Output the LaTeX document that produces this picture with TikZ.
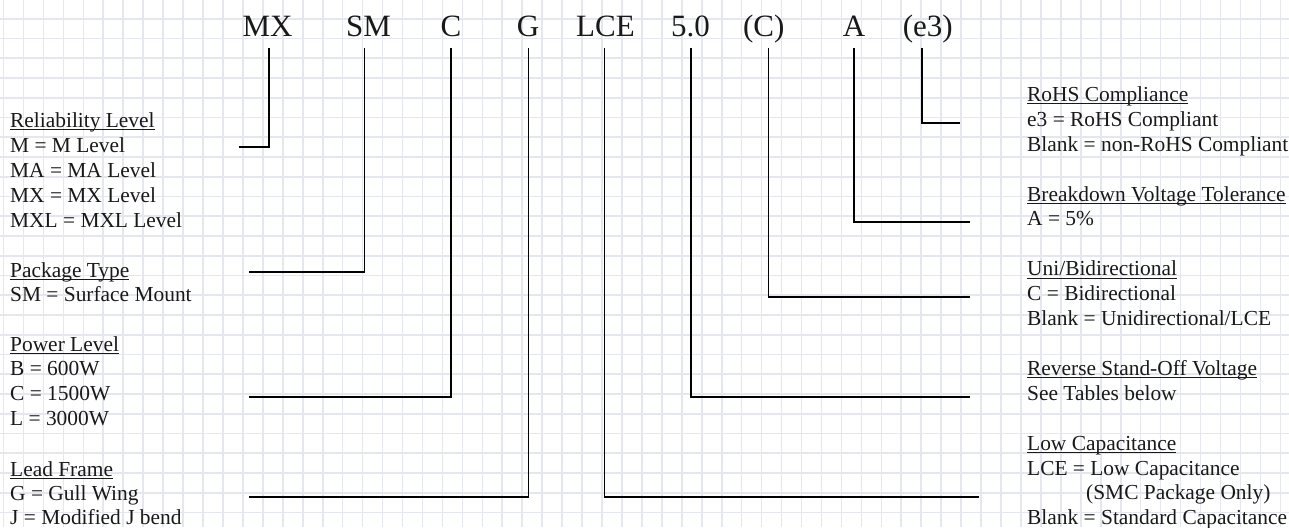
\documentclass[tikz,border=0pt]{standalone}
\usepackage{fontspec}
\setmainfont{Liberation Serif}
\definecolor{gridc}{RGB}{229,231,238}
\definecolor{inkc}{RGB}{25,25,25}
\newcommand\headtxt[1]{\setbox0\hbox{#1}\rlap{\rule[-3pt]{\wd0}{0.9pt}}#1}
\tikzset{
  gridline/.style={draw=gridc, line width=1.6pt},
  code/.style={anchor=base, inner sep=0pt, text=inkc, font=\fontsize{31}{36}\selectfont},
  txt/.style={anchor=base west, inner sep=0pt, text=inkc, font=\fontsize{21.4}{25}\selectfont},
  conn/.style={draw=black, line width=1.6pt},
}
\begin{document}
\begin{tikzpicture}[x=1pt,y=-1pt]
\useasboundingbox (0,0) rectangle (1289,527);
\fill[white] (0,0) rectangle (1289,527);
% grid
\foreach \i in {0,...,65} \draw[gridline] ({3.5+19.95*\i},0) -- ({3.5+19.95*\i},527);
\foreach \j in {0,...,27} \draw[gridline] (0,{-1+19.75*\j}) -- (1289,{-1+19.75*\j});

% code labels
\node[code] (mx)  at (267.5,37) {MX};
\node[code] (sm)  at (368.5,37) {SM};
\node[code] (c)   at (451,37) {C};
\node[code] (g)   at (528,37) {G};
\node[code] (lce) at (605.5,37) {LCE};
\node[code] (v50) at (690.5,37) {5.0};
\node[code] (cc)  at (763.7,37) {(C)};
\node[code] (a)   at (854,37) {A};
\node[code] (e3)  at (927.7,37) {(e3)};

% left texts
\node[txt] (rel0) at (10,127) {\headtxt{Reliability Level}};
\node[txt] (rel1) at (10,152) {M = M Level};
\node[txt] (rel2) at (10,177) {MA = MA Level};
\node[txt] (rel3) at (10,202) {MX = MX Level};
\node[txt] (rel4) at (10,227) {MXL = MXL Level};

\node[txt] (pkg0) at (10,277) {\headtxt{Package Type}};
\node[txt] (pkg1) at (10,301) {SM = Surface Mount};

\node[txt] (pwr0) at (10,351) {\headtxt{Power Level}};
\node[txt] (pwr1) at (10,375.5) {B = 600W};
\node[txt] (pwr2) at (10,400) {C = 1500W};
\node[txt] (pwr3) at (10,425) {L = 3000W};

\node[txt] (lf0) at (10,476) {\headtxt{Lead Frame}};
\node[txt] (lf1) at (10,500) {G = Gull Wing};
\node[txt] (lf2) at (10,524.5) {J = Modified J bend};

% right texts
\node[txt] (ro0) at (1027,101) {\headtxt{RoHS Compliance}};
\node[txt] (ro1) at (1027,126.5) {e3 = RoHS Compliant};
\node[txt] (ro2) at (1027,151.5) {Blank = non-RoHS Compliant};

\node[txt] (bd0) at (1027,201) {\headtxt{Breakdown Voltage Tolerance}};
\node[txt] (bd1) at (1027,225.5) {A = 5\%};

\node[txt] (ub0) at (1027,275.5) {\headtxt{Uni/Bidirectional}};
\node[txt] (ub1) at (1027,300.5) {C = Bidirectional};
\node[txt] (ub2) at (1027,325) {Blank = Unidirectional/LCE};

\node[txt] (rs0) at (1027,375) {\headtxt{Reverse Stand-Off Voltage}};
\node[txt] (rs1) at (1027,400) {See Tables below};

\node[txt] (lc0) at (1027,450) {\headtxt{Low Capacitance}};
\node[txt] (lc1) at (1027,475) {LCE = Low Capacitance};
\node[txt] (lc2) at (1086,499.7) {(SMC Package Only)};
\node[txt] (lc3) at (1027,524) {Blank = Standard Capacitance};

% connector free ends
\coordinate (mxe)  at (239,147);
\coordinate (sme)  at (249,272);
\coordinate (ce)   at (249,397);
\coordinate (ge)   at (249,497);
\coordinate (lcee) at (979,497);
\coordinate (v50e) at (970,397);
\coordinate (cce)  at (970,297);
\coordinate (ae)   at (970,222);
\coordinate (e3e)  at (960,123);

% connectors
\draw[conn] ([xshift=1.5pt,yshift=-11pt]mx.base) |- (mxe);
\draw[conn] ([xshift=-4.2pt,yshift=-11pt]sm.base) |- (sme);
\draw[conn] ([xshift=-0.3pt,yshift=-11pt]c.base) |- (ce);
\draw[conn] ([xshift=0.3pt,yshift=-11pt]g.base) |- (ge);
\draw[conn] ([xshift=-1.2pt,yshift=-11pt]lce.base) |- (lcee);
\draw[conn] ([xshift=0.2pt,yshift=-11pt]v50.base) |- (v50e);
\draw[conn] ([xshift=4.6pt,yshift=-11pt]cc.base) |- (cce);
\draw[conn] ([yshift=-11pt]a.base) |- (ae);
\draw[conn] ([xshift=-6pt,yshift=-11pt]e3.base) |- (e3e);
\end{tikzpicture}
\end{document}
